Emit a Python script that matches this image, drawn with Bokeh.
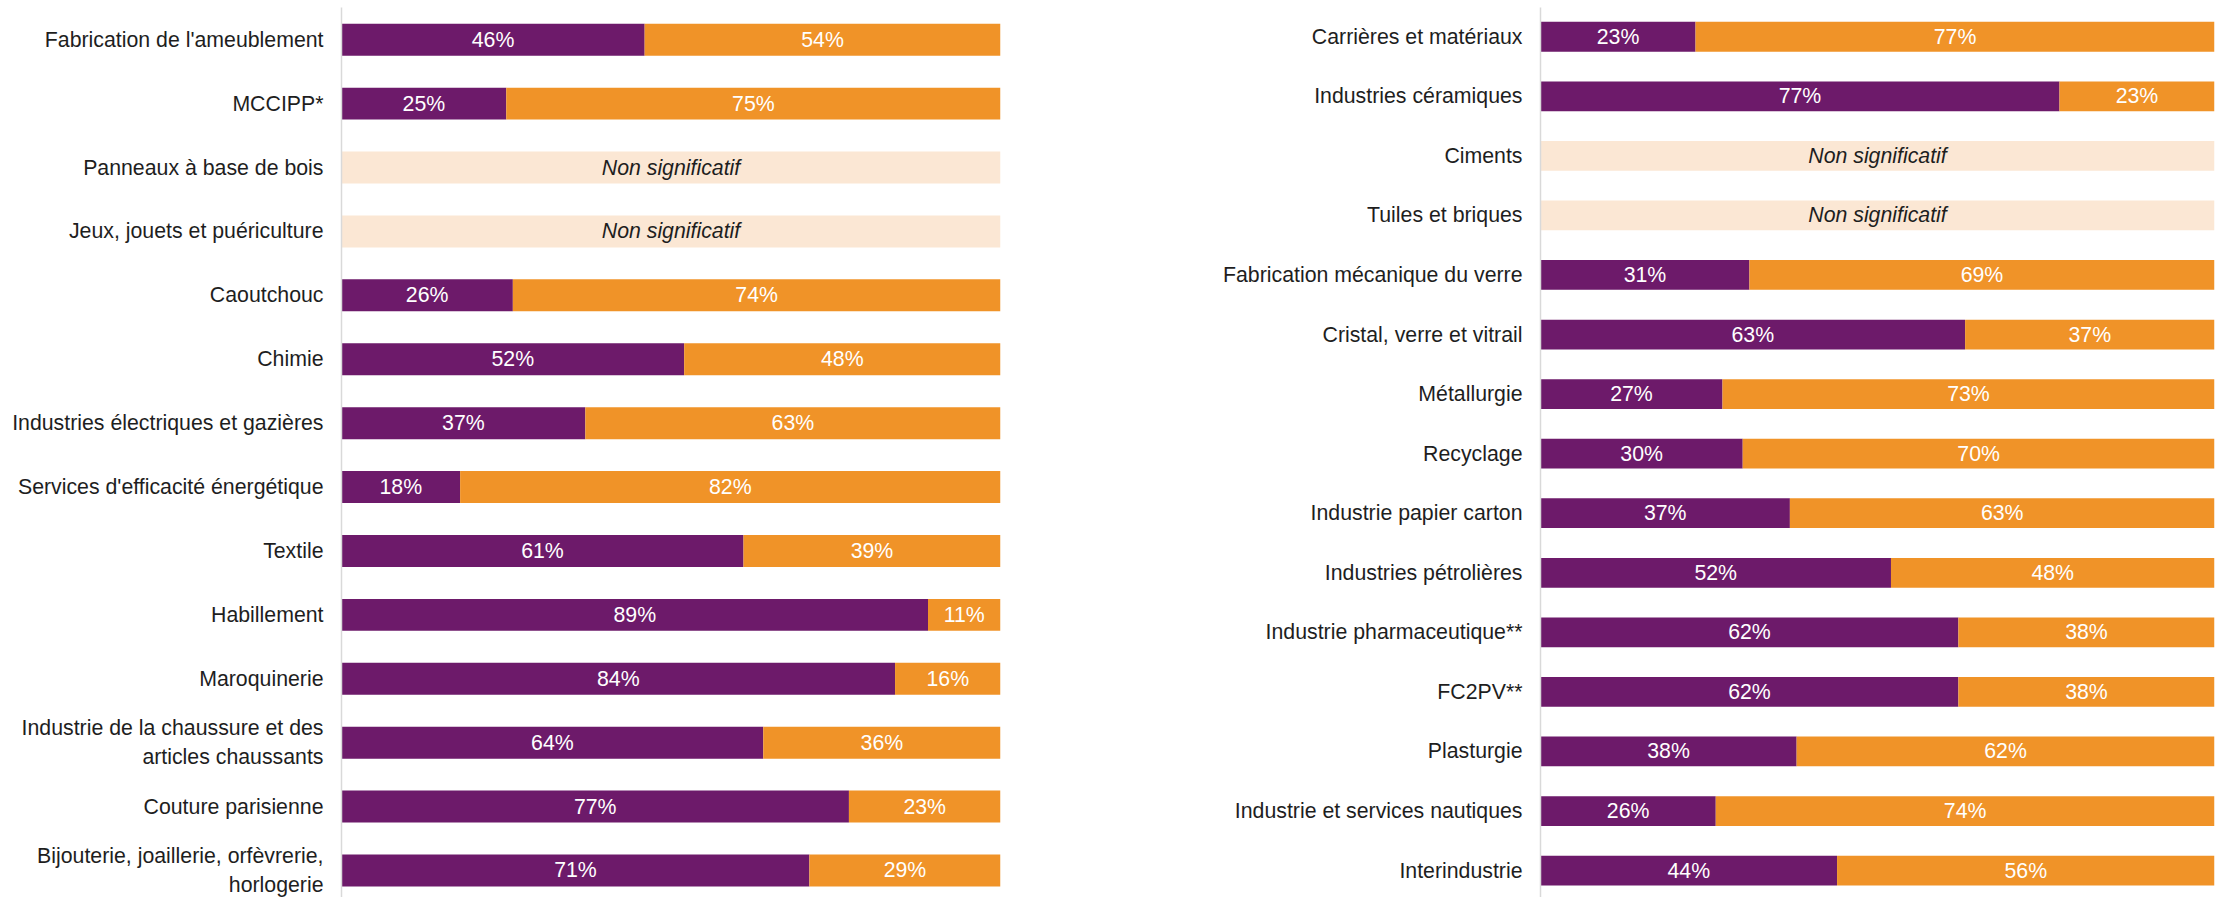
from bokeh.plotting import figure
from bokeh.layouts import row
from bokeh.models import ColumnDataSource, Range1d, FixedTicker
from bokeh.core.properties import value
from bokeh.embed import file_html
from bokeh.resources import INLINE

# ---------------- data ----------------
left_cats = [
    "Fabrication de l'ameublement",
    "MCCIPP*",
    "Panneaux à base de bois",
    "Jeux, jouets et puériculture",
    "Caoutchouc",
    "Chimie",
    "Industries électriques et gazières",
    "Services d'efficacité énergétique",
    "Textile",
    "Habillement",
    "Maroquinerie",
    "Industrie de la chaussure et des\narticles chaussants",
    "Couture parisienne",
    "Bijouterie, joaillerie, orfèvrerie,\nhorlogerie",
]
left_purple = [46, 25, None, None, 26, 52, 37, 18, 61, 89, 84, 64, 77, 71]
left_orange = [54, 75, None, None, 74, 48, 63, 82, 39, 11, 16, 36, 23, 29]

right_cats = [
    "Carrières et matériaux",
    "Industries céramiques",
    "Ciments",
    "Tuiles et briques",
    "Fabrication mécanique du verre",
    "Cristal, verre et vitrail",
    "Métallurgie",
    "Recyclage",
    "Industrie papier carton",
    "Industries pétrolières",
    "Industrie pharmaceutique**",
    "FC2PV**",
    "Plasturgie",
    "Industrie et services nautiques",
    "Interindustrie",
]
right_purple = [23, 77, None, None, 31, 63, 27, 30, 37, 52, 62, 62, 38, 26, 44]
right_orange = [77, 23, None, None, 69, 37, 73, 70, 63, 48, 38, 38, 62, 74, 56]

NS_TEXT = "Non significatif"

# ---------------- style ----------------
PURPLE = "#6D1A6A"
ORANGE = "#F09328"
PALE = "#FBE7D4"
AXIS = "#D9D9D9"
TEXT = "#1E1E1E"
FONT = "Liberation Sans"
FS = "21.3px"


def panel(cats, purple, orange, width, border_left, border_right, border_top,
          pad_top, pad_bottom):
    n = len(cats)
    p = figure(
        width=width, height=897,
        x_range=Range1d(0, 100),
        y_range=Range1d(start=n - 1 + pad_bottom, end=-pad_top),
        x_axis_location=None,
        toolbar_location=None,
        output_backend="svg",
        min_border_left=border_left, min_border_right=border_right,
        min_border_top=border_top, min_border_bottom=0,
    )
    p.outline_line_color = None
    p.grid.grid_line_color = None
    p.background_fill_color = "white"
    p.border_fill_color = "white"

    ok = [i for i in range(n) if purple[i] is not None]
    ns = [i for i in range(n) if purple[i] is None]

    src = ColumnDataSource(dict(
        y=ok,
        a=[purple[i] for i in ok],
        b=[purple[i] + orange[i] for i in ok],
        am=[purple[i] / 2 for i in ok],
        bm=[purple[i] + orange[i] / 2 for i in ok],
        al=[f"{purple[i]}%" for i in ok],
        bl=[f"{orange[i]}%" for i in ok],
    ))
    ns_src = ColumnDataSource(dict(
        y=ns, r=[100] * len(ns), xm=[50] * len(ns), t=[NS_TEXT] * len(ns)
    ))

    p.hbar(y="y", left=0, right="a", height=0.5, source=src,
           fill_color=PURPLE, line_color=None)
    p.hbar(y="y", left="a", right="b", height=0.5, source=src,
           fill_color=ORANGE, line_color=None)
    p.hbar(y="y", left=0, right="r", height=0.5, source=ns_src,
           fill_color=PALE, line_color=None)

    common = dict(text_align="center", text_baseline="middle",
                  text_font=value(FONT), text_font_size=FS)
    p.text(x="am", y="y", text="al", source=src, text_color="white", **common)
    p.text(x="bm", y="y", text="bl", source=src, text_color="white", **common)
    p.text(x="xm", y="y", text="t", source=ns_src, text_color=TEXT,
           text_font_style="italic", **common)

    ax = p.yaxis[0]
    ax.ticker = FixedTicker(ticks=list(range(n)))
    ax.major_label_overrides = {i: c for i, c in enumerate(cats)}
    ax.major_tick_line_color = None
    ax.minor_tick_line_color = None
    ax.major_tick_out = 0
    ax.major_tick_in = 0
    ax.major_label_standoff = 18
    ax.major_label_text_font = FONT
    ax.major_label_text_font_size = FS
    ax.major_label_text_color = TEXT
    ax.axis_line_color = AXIS
    ax.axis_line_width = 1.5
    return p


p1 = panel(left_cats, left_purple, left_orange, 1010, 341, 10, 7, 0.504, 0.4225)
p2 = panel(right_cats, right_purple, right_orange, 1208, 530, 4, 5, 0.491, 0.452)

layout = row(p1, p2)
open("out.html", "w").write(file_html(layout, INLINE))
